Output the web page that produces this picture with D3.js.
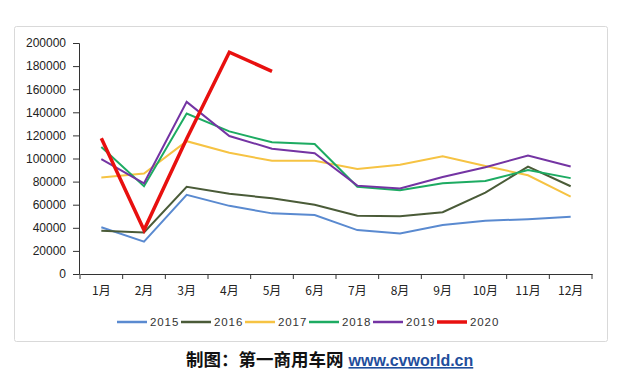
<!DOCTYPE html>
<html><head><meta charset="utf-8">
<script src="https://cdn.jsdelivr.net/npm/d3@7/dist/d3.min.js"></script>
<style>body{margin:0;background:#fff;}svg{display:block;}</style>
</head><body>
<svg id="c" width="630" height="380"></svg>
<script>
const months = ["1月","2月","3月","4月","5月","6月","7月","8月","9月","10月","11月","12月"];
const yTicks = [0,20000,40000,60000,80000,100000,120000,140000,160000,180000,200000];
const years = ["2015","2016","2017","2018","2019","2020"];
const s2015 = [40500,28000,68500,59000,52500,51000,38000,35000,42500,46000,47500,49500];
const s2016 = [37500,36000,75500,69500,65500,60000,50500,50000,53500,70500,93000,76000];
const s2017 = [83500,87000,115000,105000,98000,98000,91000,94500,102000,93500,85500,67000];
const s2018 = [110000,76000,139000,123500,114000,112500,75500,72500,78500,80500,90000,83000];
const s2019 = [99500,78500,149000,119500,108500,104500,76500,74000,84000,92500,102500,93000];
const s2020 = [117500,38000,117000,192000,175500];
const series = [s2015,s2016,s2017,s2018,s2019,s2020];
const colors = ["#5a8ad0","#4a5b38","#f6c343","#1dab62","#7434a3","#e8100f"];
const widths = [2,2,2,2,2,3.5];

const svg = d3.select("#c");
svg.append("rect").attr("x",14.5).attr("y",26.5).attr("width",593).attr("height",315)
  .attr("rx",2).attr("fill","#fff").attr("stroke","#d9d9d9");

const x = d3.scaleBand().domain(months).range([80,592]);
const y = d3.scaleLinear().domain([0,200000]).range([274,43]);

const gy = svg.append("g").attr("transform","translate(79,0)")
  .call(d3.axisLeft(y).tickValues(yTicks).tickSize(6).tickFormat(d3.format("d")));
gy.select(".domain").attr("stroke","#333");
gy.selectAll(".tick line").attr("stroke","#333");
gy.selectAll(".tick text").attr("font-family","Liberation Sans, Arial, sans-serif")
  .attr("font-size",12).attr("fill","#222").attr("x",-13);

const gx = svg.append("g").attr("transform","translate(0,274)")
  .call(d3.axisBottom(x).tickSize(0).tickSizeOuter(0));
gx.select(".domain").attr("stroke","#333");
gx.selectAll(".tick text").attr("font-family","Noto Sans CJK SC, sans-serif")
  .attr("font-size",12).attr("fill","#222").attr("dy",0).attr("y",21);
gx.selectAll(".bt").data(months.concat(["end"])).enter().append("line")
  .attr("x1",(d,i)=> i<12 ? x(d) : x(months[11])+x.bandwidth())
  .attr("x2",(d,i)=> i<12 ? x(d) : x(months[11])+x.bandwidth())
  .attr("y1",0).attr("y2",5).attr("stroke","#333");

const line = d3.line().x((d,i)=>x(months[i])+x.bandwidth()/2).y(d=>y(d));
series.forEach((s,k)=>{
  svg.append("path").attr("d",line(s)).attr("fill","none")
    .attr("stroke",colors[k]).attr("stroke-width",widths[k])
    .attr("stroke-linejoin","miter");
});

const lg = svg.append("g");
years.forEach((yr,k)=>{
  const x0 = 117 + k*64;
  lg.append("line").attr("x1",x0).attr("x2",x0+30).attr("y1",322).attr("y2",322)
    .attr("stroke",colors[k]).attr("stroke-width",k===5?3.5:2.5);
  lg.append("text").attr("x",x0+33).attr("y",326).text(yr)
    .attr("font-family","Liberation Sans, Arial, sans-serif").attr("font-size",11.5)
    .attr("letter-spacing",0.9).attr("fill","#333");
});

const cap = svg.append("text").attr("x",186).attr("y",366)
  .attr("font-family","Noto Sans CJK SC, sans-serif").attr("font-weight","bold");
cap.append("tspan").text("制图：第一商用车网").attr("fill","#111").attr("font-size",17.5);
cap.append("tspan").text("www.cvworld.cn").attr("fill","#1f4e9c").attr("dx",5)
  .attr("font-size",16)
  .attr("font-family","Liberation Sans, Arial, sans-serif").attr("text-decoration","underline");
</script>
</body></html>
